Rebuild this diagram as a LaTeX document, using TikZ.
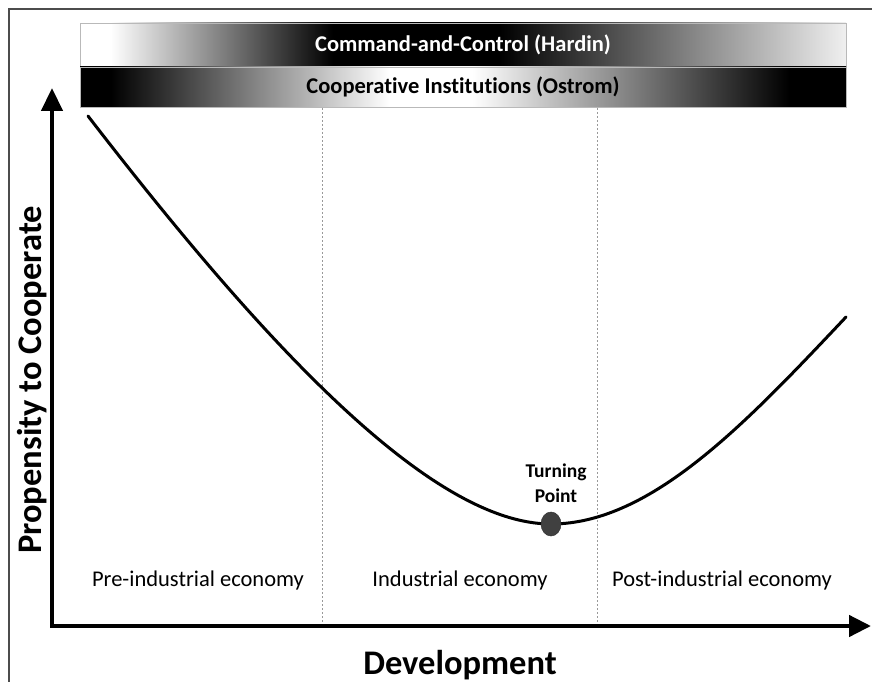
\documentclass[tikz,border=0pt]{standalone}
\usepackage{fontspec}
\setmainfont{Carlito}[Ligatures=NoCommon]
\usetikzlibrary{arrows.meta,shapes.geometric}

% horizontal gradients for the two institution bars (25bp..75bp = left..right edge)
\pgfdeclarehorizontalshading{hardinbar}{100bp}{%
  color(0bp)=(white); color(27bp)=(white); color(41.5bp)=(black);
  color(52.4bp)=(black); color(75bp)=(gray!12); color(100bp)=(gray!12)}
\pgfdeclarehorizontalshading{ostrombar}{100bp}{%
  color(0bp)=(black); color(27bp)=(black); color(45.2bp)=(white);
  color(50.6bp)=(white); color(71.3bp)=(black); color(100bp)=(black)}

\tikzset{
  framepen/.style={draw=gray!60!black, line width=2pt},
  barbox/.style={draw=gray!55, line width=0.8pt, minimum width=766pt,
    inner sep=0pt, font=\fontsize{22.5}{26}\selectfont\bfseries},
  axispen/.style={line width=4.5pt, line join=miter},
  divider/.style={draw=gray!80, line width=1pt, dash pattern=on 2pt off 2pt},
  eralabel/.style={anchor=base, inner sep=0pt, font=\fontsize{22.5}{26}\selectfont},
  axislabel/.style={anchor=base, inner sep=0pt, font=\fontsize{34.5}{40}\selectfont\bfseries},
  curvepen/.style={line width=3pt, line cap=round},
  tpdot/.style={ellipse, fill=black!75, draw=black!80, line width=0.5pt,
    minimum width=20pt, minimum height=24pt, inner sep=0pt},
  tplabel/.style={anchor=south, inner sep=0pt, align=center,
    font=\fontsize{19.5}{25}\selectfont\bfseries}
}

\begin{document}
\begin{tikzpicture}[x=1pt, y=-1pt]
  \path[use as bounding box] (0,0) rectangle (872,682);

  % outer frame (top and left edges)
  \draw[framepen] (9,690) -- (9,9) -- (880,9);

  % institution bars
  \node[barbox, shade, shading=hardinbar, minimum height=44pt, text=white]
    (hardin) at (463,45) {Command-and-Control (Hardin)};
  \node[barbox, shade, shading=ostrombar, minimum height=40pt, text=black]
    (ostrom) at (463,87) {Cooperative Institutions (Ostrom)};

  % axes
  \coordinate (origin) at (52,626);
  \coordinate (ytip) at (52,88);
  \coordinate (xtip) at (871,626);

  % era dividers
  \coordinate (d1top) at (322,108);
  \coordinate (d1bot) at (322,626);
  \coordinate (d2top) at (597,108);
  \coordinate (d2bot) at (597,626);
  \draw[divider] (d1top) -- (d1bot);
  \draw[divider] (d2top) -- (d2bot);

  \draw[axispen, {Triangle[length=23pt,width=21pt]}-{Triangle[length=22pt,width=21pt]}]
    (ytip) -- (origin) -- (xtip);

  % propensity curve: falling branch, minimum, rising branch
  \coordinate (cstart) at (88,116);
  \coordinate (cmin) at (551,524);
  \coordinate (cend) at (846,317);
  \draw[curvepen] (cstart) .. controls (273,356) and (435,524) .. (cmin)
                           .. controls (651,524) and (746,423) .. (cend);

  % turning point
  \node[tpdot] (tp) at (cmin) {};
  \node[tplabel] (tptext) at (556,503) {Turning\\Point};

  % era labels
  \node[eralabel] (pre) at (198,586) {Pre-industrial economy};
  \node[eralabel] (ind) at (460,586) {Industrial economy};
  \node[eralabel] (post) at (722,586) {Post-industrial economy};

  % axis titles
  \node[axislabel] (xlab) at (460,674) {Development};
  \node[axislabel, rotate=90] (ylab) at (41,380) {Propensity to Cooperate};
\end{tikzpicture}
\end{document}
